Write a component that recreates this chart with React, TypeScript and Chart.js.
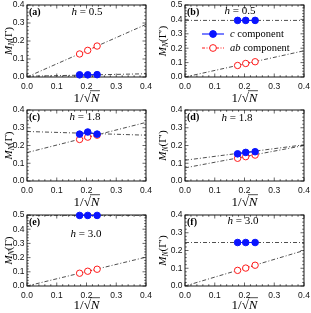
import React, { useEffect, useRef } from "react";
import { Chart, registerables } from "chart.js";
Chart.register(...registerables);

// x = 1/sqrt(N) for N = 32, 24, 18
const invSqrtN = [0.1768, 0.2041, 0.2357];
const fitX = [0, 0.4];
const xTickValues = [0, 0.1, 0.2, 0.3, 0.4];

// (a) h = 0.5
const aC = [0.012, 0.012, 0.013];
const aAB = [0.128, 0.148, 0.172];
const aCFit = [0.004, 0.018];
const aABFit = [0.0, 0.292];
// (b) h = 0.5
const bC = [0.393, 0.393, 0.393];
const bAB = [0.08, 0.094, 0.106];
const bCFit = [0.393, 0.393];
const bABFit = [0.0, 0.182];
// (c) h = 1.8
const cC = [0.264, 0.276, 0.264];
const cAB = [0.234, 0.247, 0.258];
const cCFit = [0.279, 0.258];
const cABFit = [0.16, 0.33];
// (d) h = 1.8
const dC = [0.153, 0.161, 0.165];
const dAB = [0.128, 0.137, 0.146];
const dCFit = [0.117, 0.204];
const dABFit = [0.074, 0.2];
// (e) h = 3.0
const eC = [0.497, 0.497, 0.497];
const eAB = [0.09, 0.104, 0.118];
const eCFit = [0.498, 0.498];
const eABFit = [0.0, 0.203];
// (f) h = 3.0
const fC = [0.245, 0.245, 0.245];
const fAB = [0.088, 0.101, 0.117];
const fCFit = [0.245, 0.245];
const fABFit = [0.0, 0.2];

const legendLabels = ["c component", "ab component"];

const BLUE = "#0a14ff";
const RED = "#ff1a1a";
const SERIF = "'Liberation Serif', 'DejaVu Serif', serif";
const SANS = "'Liberation Sans', Arial, sans-serif";

type Panel = {
  key: string;
  label: string;
  h: string;
  yMax: number;
  prime: boolean;
  c: number[];
  ab: number[];
  cFit: number[];
  abFit: number[];
  col: number;
  row: number;
  hdx: number;
  hdy: number;
  legend?: boolean;
};

const panels: Panel[] = [
  { key: "a", label: "(a)", h: "0.5", yMax: 0.4, prime: false, c: aC, ab: aAB, cFit: aCFit, abFit: aABFit, col: 0, row: 0, hdx: 60, hdy: 7 },
  { key: "b", label: "(b)", h: "0.5", yMax: 0.5, prime: true, c: bC, ab: bAB, cFit: bCFit, abFit: bABFit, col: 1, row: 0, hdx: 55, hdy: 6, legend: true },
  { key: "c", label: "(c)", h: "1.8", yMax: 0.4, prime: false, c: cC, ab: cAB, cFit: cCFit, abFit: cABFit, col: 0, row: 1, hdx: 58, hdy: 7 },
  { key: "d", label: "(d)", h: "1.8", yMax: 0.4, prime: true, c: dC, ab: dAB, cFit: dCFit, abFit: dABFit, col: 1, row: 1, hdx: 52, hdy: 8 },
  { key: "e", label: "(e)", h: "3.0", yMax: 0.5, prime: false, c: eC, ab: eAB, cFit: eCFit, abFit: eABFit, col: 0, row: 2, hdx: 59, hdy: 19 },
  { key: "f", label: "(f)", h: "3.0", yMax: 0.4, prime: true, c: fC, ab: fAB, cFit: fCFit, abFit: fABFit, col: 1, row: 2, hdx: 58, hdy: 6 },
];

// layout of each canvas
const cols = [
  { left: 0, width: 155, yAxisW: 27, padRight: 9, titleOff: 18.5 },
  { left: 155, width: 156, yAxisW: 30, padRight: 7, titleOff: 23 },
];
const rows = [
  { top: 0, height: 105, padTop: 3, xAxisH: 28, xTitleOff: 20 },
  { top: 105, height: 105, padTop: 2, xAxisH: 29, xTitleOff: 20 },
  { top: 210, height: 103, padTop: 4, xAxisH: 27, xTitleOff: 18 },
];

function drawParts(
  ctx: CanvasRenderingContext2D,
  parts: { t: string; font: string; dy?: number }[],
  cx: number,
  y: number
) {
  let total = 0;
  const ws = parts.map((p) => {
    ctx.font = p.font;
    const w = ctx.measureText(p.t).width;
    total += w;
    return w;
  });
  let x = cx - total / 2;
  const pos: number[] = [];
  parts.forEach((p, i) => {
    ctx.font = p.font;
    ctx.fillText(p.t, x, y + (p.dy || 0));
    pos.push(x);
    x += ws[i];
  });
  return { pos, ws, start: cx - total / 2 };
}

function makeDecor(p: Panel) {
  const col = cols[p.col];
  const row = rows[p.row];
  return {
    id: "decor_" + p.key,
    beforeDatasetsDraw(chart: any) {
      const { ctx, chartArea: a, scales } = chart;
      const xs = scales.x;
      const ys = scales.y;
      ctx.save();
      ctx.strokeStyle = "#000";
      ctx.lineWidth = 0.6;
      const seg = (x1: number, y1: number, x2: number, y2: number) => {
        ctx.beginPath();
        ctx.moveTo(x1, y1);
        ctx.lineTo(x2, y2);
        ctx.stroke();
      };
      for (let i = 0; i <= 20; i++) {
        const px = xs.getPixelForValue(i * 0.02);
        const L = i % 5 === 0 ? 3.5 : 1.8;
        seg(px, a.bottom, px, a.bottom - L);
        seg(px, a.top, px, a.top + L);
      }
      const ny = Math.round(p.yMax / 0.02);
      for (let i = 0; i <= ny; i++) {
        const py = ys.getPixelForValue(i * 0.02);
        const L = i % 5 === 0 ? 3.5 : 1.8;
        seg(a.left, py, a.left + L, py);
        seg(a.right, py, a.right - L, py);
      }
      ctx.lineWidth = 0.9;
      ctx.strokeRect(a.left, a.top, a.right - a.left, a.bottom - a.top);
      ctx.restore();
    },
    afterDraw(chart: any) {
      const { ctx, chartArea: a } = chart;
      ctx.save();
      ctx.fillStyle = "#000";
      ctx.textBaseline = "middle";
      ctx.textAlign = "left";
      // panel label
      ctx.font = `bold 10px ${SERIF}`;
      ctx.fillText(p.label, a.left + 2, a.top + 7);
      // h label
      ctx.textBaseline = "middle";
      drawParts(
        ctx,
        [
          { t: "h", font: `italic 11px ${SERIF}` },
          { t: " = " + p.h, font: `11px ${SERIF}` },
        ],
        a.left + p.hdx,
        a.top + p.hdy
      );
      // x title 1/sqrt(N)
      ctx.textBaseline = "alphabetic";
      const xb = a.bottom + row.xTitleOff + 4.5;
      const r = drawParts(
        ctx,
        [
          { t: "1/", font: `13px ${SERIF}` },
          { t: "√", font: `13px ${SERIF}` },
          { t: "N", font: `italic 13px ${SERIF}` },
        ],
        (a.left + a.right) / 2,
        xb
      );
      ctx.strokeStyle = "#000";
      ctx.lineWidth = 0.7;
      ctx.beginPath();
      const ox = r.pos[1] + r.ws[1] - 0.8;
      ctx.moveTo(ox, xb - 10.8);
      ctx.lineTo(r.pos[2] + r.ws[2] + 0.5, xb - 10.8);
      ctx.stroke();
      // y title M_N(Γ)
      ctx.save();
      ctx.translate(a.left - col.titleOff, (a.top + a.bottom) / 2);
      ctx.rotate(-Math.PI / 2);
      drawParts(
        ctx,
        [
          { t: "M", font: `italic 11px ${SERIF}` },
          { t: "N", font: `italic 7.5px ${SERIF}`, dy: 2.3 },
          { t: p.prime ? "(Γ′)" : "(Γ)", font: `11px ${SERIF}` },
        ],
        0,
        3.6
      );
      ctx.restore();
      // legend
      if (p.legend) {
        const lx = a.left + 17;
        const items = [
          { y: a.top + 29, color: BLUE, fill: BLUE, dash: [] as number[], it: "c", rest: " component" },
          { y: a.top + 43, color: RED, fill: "#fff", dash: [3, 1.5, 1, 1.5], it: "ab", rest: " component" },
        ];
        items.forEach((it) => {
          ctx.strokeStyle = it.color;
          ctx.lineWidth = 1.1;
          ctx.setLineDash(it.dash);
          ctx.beginPath();
          ctx.moveTo(lx, it.y);
          ctx.lineTo(lx + 22, it.y);
          ctx.stroke();
          ctx.setLineDash([]);
          ctx.beginPath();
          ctx.arc(lx + 11, it.y, 3.4, 0, Math.PI * 2);
          ctx.fillStyle = it.fill;
          ctx.fill();
          ctx.lineWidth = 1;
          ctx.stroke();
          ctx.fillStyle = "#000";
          ctx.textBaseline = "middle";
          ctx.font = `italic 10.5px ${SERIF}`;
          const tx = lx + 28;
          ctx.fillText(it.it, tx, it.y);
          const w = ctx.measureText(it.it).width;
          ctx.font = `10.5px ${SERIF}`;
          ctx.fillText(it.rest, tx + w, it.y);
        });
      }
      ctx.restore();
    },
  };
}

function PanelChart({ p }: { p: Panel }) {
  const ref = useRef<HTMLCanvasElement | null>(null);
  const col = cols[p.col];
  const row = rows[p.row];
  useEffect(() => {
    if (!ref.current) return;
    const pts = (ys: number[]) => invSqrtN.map((x, i) => ({ x, y: ys[i] }));
    const fit = (ys: number[]) => fitX.map((x, i) => ({ x, y: ys[i] }));
    const chart = new Chart(ref.current, {
      type: "scatter",
      data: {
        datasets: [
          {
            label: legendLabels[0],
            data: pts(p.c),
            showLine: true,
            borderColor: BLUE,
            backgroundColor: BLUE,
            borderWidth: 1,
            pointRadius: 3.3,
            pointBackgroundColor: BLUE,
            pointBorderColor: BLUE,
            order: 1,
            clip: false,
          },
          {
            label: legendLabels[1],
            data: pts(p.ab),
            showLine: true,
            borderColor: RED,
            backgroundColor: "#fff",
            borderWidth: 1,
            borderDash: [3, 1.5, 1, 1.5],
            pointRadius: 3.2,
            pointBorderWidth: 1,
            pointBackgroundColor: "#fff",
            pointBorderColor: RED,
            order: 2,
            clip: false,
          },
          {
            label: "c fit",
            data: fit(p.cFit),
            showLine: true,
            borderColor: "#222",
            borderWidth: 0.8,
            borderDash: [4, 2, 1, 2],
            pointRadius: 0,
            order: 3,
          },
          {
            label: "ab fit",
            data: fit(p.abFit),
            showLine: true,
            borderColor: "#222",
            borderWidth: 0.8,
            borderDash: [4, 2, 1, 2],
            pointRadius: 0,
            order: 3,
          },
        ] as any,
      },
      options: {
        responsive: false,
        animation: false,
        devicePixelRatio: 1,
        events: [],
        layout: { padding: { top: row.padTop, right: col.padRight, left: 0, bottom: 0 } },
        plugins: { legend: { display: false }, tooltip: { enabled: false } },
        scales: {
          x: {
            type: "linear",
            min: 0,
            max: 0.4,
            grid: { display: false, drawTicks: false },
            border: { display: false },
            afterBuildTicks: (s: any) => {
              s.ticks = xTickValues.map((v) => ({ value: v }));
            },
            ticks: {
              autoSkip: false,
              maxRotation: 0,
              padding: 4.5,
              color: "#111",
              font: { family: SANS, size: 8.5 },
              callback: (v: any) => Number(v).toFixed(1),
            },
            afterFit: (s: any) => {
              s.height = row.xAxisH;
              s.paddingLeft = 0;
              s.paddingRight = 0;
            },
          },
          y: {
            type: "linear",
            min: 0,
            max: p.yMax,
            grid: { display: false, drawTicks: false },
            border: { display: false },
            ticks: {
              stepSize: 0.1,
              autoSkip: false,
              padding: 2.5,
              color: "#111",
              font: { family: SANS, size: 8.5 },
              callback: (v: any) => Number(v).toFixed(1),
            },
            afterFit: (s: any) => {
              s.width = col.yAxisW;
              s.paddingTop = 0;
              s.paddingBottom = 0;
            },
          },
        },
      } as any,
      plugins: [makeDecor(p)],
    });
    return () => chart.destroy();
  }, []);
  return (
    <canvas
      ref={ref}
      width={col.width}
      height={row.height}
      style={{ position: "absolute", left: col.left, top: row.top, width: col.width, height: row.height }}
    />
  );
}

export default function App() {
  return (
    <div style={{ position: "absolute", left: 0, top: 0, width: 311, height: 313, background: "#fff", overflow: "hidden" }}>
      {panels.map((p) => (
        <PanelChart key={p.key} p={p} />
      ))}
    </div>
  );
}
